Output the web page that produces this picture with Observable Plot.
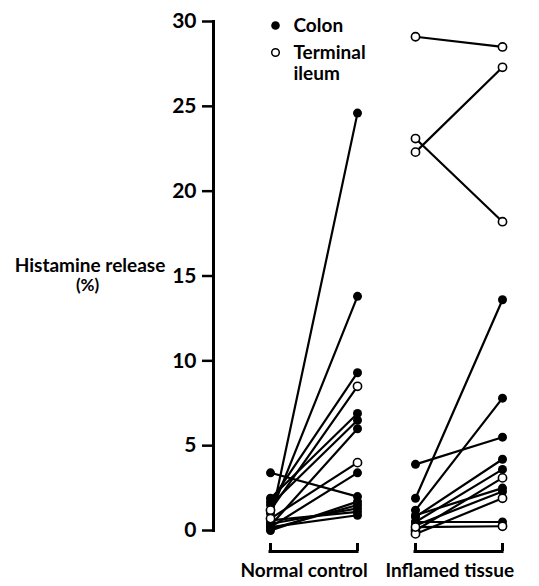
<!DOCTYPE html>
<html><head><meta charset="utf-8">
<script src="https://cdn.jsdelivr.net/npm/d3@7"></script>
<script src="https://cdn.jsdelivr.net/npm/@observablehq/plot@0.6"></script>
<style>
body{margin:0;background:#fff;}
#chart svg{display:block;}
</style></head><body><div id="chart"></div>
<script>
const groups = ["Normal control", "Inflamed tissue"];
const tissues = ["Colon", "Terminal ileum"];
const stages = ["baseline", "stimulated"];
const yTicks = [0, 5, 10, 15, 20, 25, 30];
const yLabel = ["Histamine release", "(%)"];

const normalColonBaseline   = [0.5, 1.0, 1.7, 1.9, 1.5, 0.3, 0.2, 3.4, 0.0, 0.1, 0.4, 0.6, 0.2];
const normalColonStimulated = [24.6, 13.8, 9.3, 6.9, 6.5, 6.0, 3.4, 2.0, 1.7, 1.5, 1.3, 1.1, 0.9];
const normalIleumBaseline   = [1.2, 0.7];
const normalIleumStimulated = [8.5, 4.0];
const inflamedColonBaseline   = [1.9, 1.2, 3.9, 0.8, 0.5, 0.9, 0.3, 0.5];
const inflamedColonStimulated = [13.6, 7.8, 5.5, 4.2, 3.6, 2.5, 2.3, 0.5];
const inflamedIleumBaseline   = [29.1, 23.1, 22.3, 0.0, -0.2, 0.2];
const inflamedIleumStimulated = [28.5, 18.2, 27.3, 3.1, 1.9, 0.25];

const pairs = [];
function addPairs(group, tissue, before, after) {
  before.forEach((b, i) => pairs.push({group, tissue, id: pairs.length, baseline: b, stimulated: after[i]}));
}
addPairs(groups[0], tissues[0], normalColonBaseline, normalColonStimulated);
addPairs(groups[0], tissues[1], normalIleumBaseline, normalIleumStimulated);
addPairs(groups[1], tissues[0], inflamedColonBaseline, inflamedColonStimulated);
addPairs(groups[1], tissues[1], inflamedIleumBaseline, inflamedIleumStimulated);
const points = pairs.flatMap(p => stages.map(s => ({group: p.group, tissue: p.tissue, id: p.id, stage: s, value: p[s]})));
const bracketData = groups.map(g => ({group: g}));
const hookData = groups.flatMap(g => stages.map(s => ({group: g, stage: s})));

const font = "Lato, 'DejaVu Sans', sans-serif";
const first = () => groups[0];
const chart = Plot.plot({
  width: 539,
  height: 586,
  marginTop: 21,
  marginBottom: 56,
  marginLeft: 213,
  marginRight: 36,
  style: {fontFamily: font, fontWeight: 700, color: "#000", background: "#fff", overflow: "visible"},
  fx: {domain: groups, paddingInner: 0, paddingOuter: 0, axis: null},
  x: {type: "point", domain: stages, padding: 0.324, align: 0.98, axis: null},
  y: {domain: [0, 30], axis: null},
  marks: [
    Plot.frame({anchor: "left", facetAnchor: "left", strokeWidth: 3}),
    Plot.axisY({ticks: yTicks, tickSize: 11, tickPadding: 6, strokeWidth: 2.5, fontSize: 21, fontWeight: 700, label: null, tickFormat: d => d}),
    Plot.ruleY(bracketData, {fx: "group", y: 0, x1: () => stages[0], x2: () => stages[1], dy: 21, strokeWidth: 3, strokeLinecap: "square"}),
    Plot.ruleX(hookData, {fx: "group", x: "stage", y1: 0, y2: 0, insetTop: -8, dy: 21, strokeWidth: 3}),
    Plot.line(points, {fx: "group", x: "stage", y: "value", z: "id", stroke: "#000", strokeWidth: 2.2}),
    Plot.dot(points.filter(d => d.tissue === tissues[0]), {fx: "group", x: "stage", y: "value", r: 4.5, fill: "#000"}),
    Plot.dot(points.filter(d => d.tissue === tissues[1]), {fx: "group", x: "stage", y: "value", r: 4.1, fill: "#fff", stroke: "#000", strokeWidth: 1.6}),
    Plot.text(groups, {fx: d => d, text: d => d, frameAnchor: "bottom-left", textAnchor: "start", lineAnchor: "middle", dx: 27, dy: 40, fontSize: 19, fontWeight: 700}),
    Plot.text([yLabel[0]], {fx: first, text: d => d, frameAnchor: "left", textAnchor: "middle", dx: -123.5, dy: -10, fontSize: 19, fontWeight: 700}),
    Plot.text([yLabel[1]], {fx: first, text: d => d, frameAnchor: "left", textAnchor: "middle", dx: -126, dy: 10, fontSize: 17, fontWeight: 700}),
    Plot.dot([tissues[0]], {fx: first, frameAnchor: "top-left", dx: 62, dy: 4, r: 4.3, fill: "#000"}),
    Plot.dot([tissues[1]], {fx: first, frameAnchor: "top-left", dx: 62, dy: 31, r: 3.8, fill: "#fff", stroke: "#000", strokeWidth: 1.5}),
    Plot.text([tissues[0]], {fx: first, text: d => d, frameAnchor: "top-left", textAnchor: "start", lineAnchor: "middle", dx: 80, dy: 4, fontSize: 19, fontWeight: 700}),
    Plot.text([tissues[1]], {fx: first, text: d => d.replace(" ", "\n"), frameAnchor: "top-left", textAnchor: "start", lineAnchor: "middle", dx: 80, dy: 41.5, lineHeight: 1.12, fontSize: 19, fontWeight: 700})
  ]
});
document.getElementById("chart").appendChild(chart);
</script>
</body></html>
